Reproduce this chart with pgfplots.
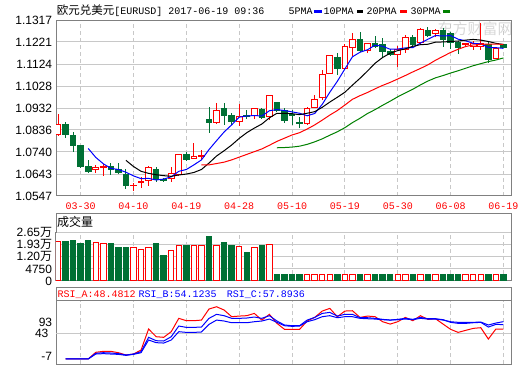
\documentclass[border=0pt]{standalone}
\usepackage{fontspec}
\setmainfont{Liberation Sans}
\newfontfamily\mono{Liberation Mono}
\newfontfamily\cjk{Noto Sans CJK SC}
\usepackage{pgfplots}
\pgfplotsset{compat=1.18}
\usepgfplotslibrary{statistics}
\definecolor{upc}{RGB}{255,0,0}
\definecolor{dnc}{RGB}{0,112,52}
\definecolor{framec}{RGB}{128,128,128}
\definecolor{gridc}{RGB}{200,200,200}
\definecolor{mablue}{RGB}{0,0,255}
\definecolor{magreen}{RGB}{0,128,0}
\definecolor{wmc}{RGB}{215,215,215}
% up candle: i, low, open, close, high
\newcommand{\cu}[5]{\addplot[draw=upc, line width=1bp, boxplot prepared={draw position=#1, lower whisker=#2, lower quartile=#3, median=#4, upper quartile=#4, upper whisker=#5, box extend=0.75, whisker extend=0, every box/.style={draw=upc, fill=white}}] coordinates {};}
% down candle: i, low, close, open, high
\newcommand{\cd}[5]{\addplot[draw=dnc, line width=1bp, boxplot prepared={draw position=#1, lower whisker=#2, lower quartile=#3, median=#4, upper quartile=#4, upper whisker=#5, box extend=0.75, whisker extend=0, every box/.style={draw=dnc, fill=dnc}}] coordinates {};}
% volume bars: i, volume
\newcommand{\vu}[2]{\addplot[draw=upc, line width=1bp, boxplot prepared={draw position=#1, lower whisker=-2500, lower quartile=-2500, median=#2, upper quartile=#2, upper whisker=#2, box extend=0.72, whisker extend=0, every box/.style={draw=upc, fill=white}}] coordinates {};}
\newcommand{\vd}[2]{\addplot[draw=dnc, line width=1bp, boxplot prepared={draw position=#1, lower whisker=-2500, lower quartile=-2500, median=#2, upper quartile=#2, upper whisker=#2, box extend=0.72, whisker extend=0, every box/.style={draw=dnc, fill=dnc}}] coordinates {};}
\pgfplotsset{
 panel/.style={
  scale only axis, width=455bp, xmin=-0.265, xmax=60,
  anchor=south west,
  axis line style={draw=framec, line width=1bp},
  xtick={3,10,17,24,31,38,45,52,59},
  major tick length=0pt,
  scaled y ticks=false,
  xmajorgrids, ymajorgrids,
  x grid style={draw=gridc, dash pattern=on 4bp off 3bp, line width=1bp},
  y grid style={draw=gridc, line width=1bp},
  yticklabel style={font=\fontsize{12bp}{13bp}\selectfont, anchor=east, inner sep=0pt, xshift=-3.7bp, text=black},
  boxplot/draw direction=y,
 },
}
\begin{document}
\begin{tikzpicture}
\path[use as bounding box] (0,0) rectangle (520bp,365bp);
% watermark
\node[anchor=center, inner sep=0pt, text=wmc] at (475bp,336bp) {\cjk\fontsize{15bp}{15bp}\selectfont 东方财富网};
% ---------------- main price panel ----------------
\begin{axis}[panel, at={(56bp,169bp)}, height=176bp,
  ymin=1.0547, ymax=1.1317,
  ytick={1.0547,1.0643,1.0740,1.0836,1.0932,1.1028,1.1124,1.1221,1.1317},
  yticklabels={1.0547,1.0643,1.0740,1.0836,1.0932,1.1028,1.1124,1.1221,1.1317},
  xticklabels={03-30,04-10,04-19,04-28,05-10,05-19,05-30,06-08,06-19},
  xticklabel style={font=\mono\fontsize{10bp}{10bp}\selectfont, text=upc, anchor=north, inner sep=0pt, yshift=-6.5bp},
]
\cu{0}{1.0811}{1.0817}{1.0862}{1.0906}
\cd{1}{1.0799}{1.0817}{1.0861}{1.0871}
\cd{2}{1.0741}{1.0767}{1.0810}{1.0826}
\cd{3}{1.0672}{1.0675}{1.0767}{1.0770}
\cd{4}{1.0649}{1.0653}{1.0678}{1.0705}
\cu{5}{1.0646}{1.0662}{1.0670}{1.0681}
\cu{6}{1.0636}{1.0673}{1.0675}{1.0686}
\cd{7}{1.0638}{1.0665}{1.0674}{1.0693}
\cd{8}{1.0643}{1.0651}{1.0664}{1.0690}
\cd{9}{1.0579}{1.0592}{1.0643}{1.0665}
\cu{10}{1.0570}{1.0591}{1.0594}{1.0604}
\cu{11}{1.0581}{1.0604}{1.0611}{1.0629}
\cu{12}{1.0591}{1.0613}{1.0670}{1.0680}
\cd{13}{1.0610}{1.0617}{1.0664}{1.0675}
\cd{14}{1.0610}{1.0613}{1.0621}{1.0625}
\cu{15}{1.0608}{1.0624}{1.0646}{1.0673}
\cu{16}{1.0637}{1.0641}{1.0729}{1.0731}
\cd{17}{1.0701}{1.0708}{1.0729}{1.0741}
\cu{18}{1.0709}{1.0713}{1.0718}{1.0778}
\cu{19}{1.0705}{1.0718}{1.0726}{1.0748}
\cd{20}{1.0821}{1.0868}{1.0880}{1.0936}
\cu{21}{1.0862}{1.0868}{1.0923}{1.0953}
\cd{22}{1.0858}{1.0901}{1.0928}{1.0955}
\cd{23}{1.0858}{1.0872}{1.0901}{1.0911}
\cu{24}{1.0853}{1.0872}{1.0897}{1.0949}
\cd{25}{1.0884}{1.0894}{1.0900}{1.0923}
\cu{26}{1.0883}{1.0898}{1.0931}{1.0932}
\cd{27}{1.0883}{1.0891}{1.0926}{1.0933}
\cu{28}{1.0880}{1.0894}{1.0985}{1.0989}
\cd{29}{1.0916}{1.0923}{1.0955}{1.0960}
\cd{30}{1.0865}{1.0876}{1.0923}{1.0931}
\cd{31}{1.0858}{1.0898}{1.0904}{1.0923}
\cd{32}{1.0843}{1.0863}{1.0869}{1.0891}
\cu{33}{1.0856}{1.0865}{1.0931}{1.0938}
\cu{34}{1.0931}{1.0935}{1.0971}{1.0989}
\cu{35}{1.0967}{1.0977}{1.1079}{1.1098}
\cu{36}{1.1081}{1.1084}{1.1160}{1.1161}
\cd{37}{1.1076}{1.1103}{1.1154}{1.1174}
\cu{38}{1.1101}{1.1106}{1.1203}{1.1212}
\cu{39}{1.1160}{1.1198}{1.1233}{1.1259}
\cd{40}{1.1178}{1.1183}{1.1233}{1.1266}
\cu{41}{1.1171}{1.1183}{1.1215}{1.1217}
\cd{42}{1.1193}{1.1203}{1.1215}{1.1247}
\cd{43}{1.1156}{1.1178}{1.1208}{1.1237}
\cd{44}{1.1160}{1.1164}{1.1178}{1.1189}
\cu{45}{1.1110}{1.1164}{1.1189}{1.1203}
\cu{46}{1.1171}{1.1189}{1.1241}{1.1251}
\cd{47}{1.1200}{1.1208}{1.1241}{1.1253}
\cu{48}{1.1215}{1.1218}{1.1276}{1.1281}
\cd{49}{1.1241}{1.1251}{1.1273}{1.1285}
\cu{50}{1.1241}{1.1256}{1.1270}{1.1276}
\cd{51}{1.1200}{1.1230}{1.1273}{1.1281}
\cd{52}{1.1189}{1.1218}{1.1256}{1.1266}
\cd{53}{1.1168}{1.1198}{1.1218}{1.1226}
\cu{54}{1.1200}{1.1208}{1.1213}{1.1218}
\cu{55}{1.1186}{1.1200}{1.1215}{1.1226}
\cu{56}{1.1186}{1.1203}{1.1215}{1.1303}
\cd{57}{1.1130}{1.1145}{1.1212}{1.1222}
\cu{58}{1.1145}{1.1149}{1.1193}{1.1195}
\cd{59}{1.1193}{1.1198}{1.1208}{1.1212}
% 5PMA
\addplot[mablue, line width=1bp] coordinates {(4,1.0755)(5,1.0716)(6,1.0688)(7,1.0668)(8,1.0663)(9,1.0651)(10,1.0635)(11,1.0623)(12,1.0624)(13,1.0617)(14,1.0621)(15,1.0631)(16,1.0655)(17,1.0663)(18,1.0683)(19,1.0705)(20,1.0750)(21,1.0789)(22,1.0827)(23,1.0858)(24,1.0892)(25,1.0897)(26,1.0899)(27,1.0897)(28,1.0920)(29,1.0925)(30,1.0921)(31,1.0915)(32,1.0909)(33,1.0898)(34,1.0908)(35,1.0948)(36,1.1001)(37,1.1049)(38,1.1103)(39,1.1156)(40,1.1176)(41,1.1187)(42,1.1207)(43,1.1202)(44,1.1189)(45,1.1190)(46,1.1195)(47,1.1196)(48,1.1216)(49,1.1233)(50,1.1249)(51,1.1247)(52,1.1249)(53,1.1233)(54,1.1226)(55,1.1215)(56,1.1212)(57,1.1197)(58,1.1196)(59,1.1193)};
% 10PMA
\addplot[black, line width=1bp] coordinates {(9,1.0703)(10,1.0676)(11,1.0655)(12,1.0646)(13,1.0640)(14,1.0636)(15,1.0633)(16,1.0639)(17,1.0643)(18,1.0650)(19,1.0663)(20,1.0691)(21,1.0722)(22,1.0745)(23,1.0770)(24,1.0799)(25,1.0824)(26,1.0844)(27,1.0862)(28,1.0889)(29,1.0909)(30,1.0909)(31,1.0907)(32,1.0903)(33,1.0909)(34,1.0916)(35,1.0935)(36,1.0958)(37,1.0979)(38,1.1001)(39,1.1032)(40,1.1062)(41,1.1094)(42,1.1128)(43,1.1153)(44,1.1172)(45,1.1183)(46,1.1191)(47,1.1202)(48,1.1209)(49,1.1211)(50,1.1220)(51,1.1221)(52,1.1223)(53,1.1225)(54,1.1229)(55,1.1232)(56,1.1229)(57,1.1223)(58,1.1215)(59,1.1210)};
% 20PMA
\addplot[upc, line width=1bp] coordinates {(19,1.0683)(20,1.0683)(21,1.0689)(22,1.0695)(23,1.0705)(24,1.0717)(25,1.0729)(26,1.0741)(27,1.0753)(28,1.0769)(29,1.0786)(30,1.0800)(31,1.0814)(32,1.0824)(33,1.0840)(34,1.0858)(35,1.0879)(36,1.0901)(37,1.0921)(38,1.0945)(39,1.0970)(40,1.0986)(41,1.1000)(42,1.1016)(43,1.1031)(44,1.1044)(45,1.1059)(46,1.1074)(47,1.1090)(48,1.1105)(49,1.1121)(50,1.1141)(51,1.1158)(52,1.1175)(53,1.1189)(54,1.1201)(55,1.1208)(56,1.1210)(57,1.1212)(58,1.1212)(59,1.1210)};
% 30PMA
\addplot[magreen, line width=1bp] coordinates {(29,1.0758)(30,1.0759)(31,1.0761)(32,1.0765)(33,1.0773)(34,1.0784)(35,1.0797)(36,1.0813)(37,1.0828)(38,1.0846)(39,1.0868)(40,1.0887)(41,1.0908)(42,1.0925)(43,1.0944)(44,1.0962)(45,1.0981)(46,1.0998)(47,1.1014)(48,1.1033)(49,1.1050)(50,1.1064)(51,1.1074)(52,1.1085)(53,1.1095)(54,1.1106)(55,1.1117)(56,1.1126)(57,1.1135)(58,1.1142)(59,1.1151)};
\end{axis}
% ---------------- volume panel ----------------
\draw[framec, line width=1bp] (56bp,132.3bp) rectangle (511bp,151bp);
\node[anchor=base west, inner sep=0pt] at (57bp,138.5bp) {\cjk\fontsize{12bp}{12bp}\selectfont 成交量};
\begin{axis}[panel, at={(56bp,84bp)}, height=48.3bp,
  ymin=-2500, ymax=26500,
  ytick={-2500,4750,12000,19250,26500},
  yticklabels={0,4750,{1.20{\cjk 万}},{1.93{\cjk 万}},{2.65{\cjk 万}}},
  xticklabels={},
]
\vu{0}{21336}
\vd{1}{20916}
\vd{2}{21516}
\vd{3}{19895}
\vd{4}{21516}
\vu{5}{20735}
\vu{6}{20135}
\vd{7}{19715}
\vd{8}{17313}
\vd{9}{17313}
\vu{10}{17733}
\vu{11}{16533}
\vu{12}{17733}
\vd{13}{19715}
\vd{14}{12510}
\vu{15}{15932}
\vu{16}{18934}
\vd{17}{18514}
\vu{18}{18514}
\vu{19}{19114}
\vd{20}{23918}
\vu{21}{18514}
\vd{22}{20315}
\vd{23}{18514}
\vu{24}{18334}
\vd{25}{14311}
\vu{26}{17733}
\vd{27}{18694}
\vu{28}{19535}
\vd{29}{1300}
\vd{30}{1300}
\vd{31}{1300}
\vd{32}{1300}
\vu{33}{1300}
\vu{34}{1300}
\vu{35}{1300}
\vu{36}{1300}
\vd{37}{1300}
\vu{38}{1300}
\vu{39}{1300}
\vd{40}{1300}
\vu{41}{1300}
\vd{42}{1300}
\vd{43}{1300}
\vd{44}{1300}
\vu{45}{1300}
\vu{46}{1300}
\vd{47}{1300}
\vu{48}{1300}
\vd{49}{1300}
\vu{50}{1300}
\vd{51}{1300}
\vd{52}{1300}
\vd{53}{1300}
\vu{54}{1300}
\vu{55}{1300}
\vu{56}{1300}
\vd{57}{1300}
\vu{58}{1300}
\vd{59}{1300}
\end{axis}
\draw[gridc, line width=1bp] (56.5bp,132.3bp) -- (510.5bp,132.3bp);
% ---------------- RSI panel ----------------
\draw[framec, line width=1bp] (56bp,64.3bp) rectangle (511bp,77.3bp);
\begin{axis}[panel, at={(56bp,1bp)}, height=63.3bp,
  ymin=3.9, ymax=84.6,
  ymajorgrids=false,
  ytick={14.1,57.4}, yticklabels={-7,93},
  extra y ticks={43}, extra y tick labels={43},
  extra y tick style={ymajorgrids=true, yticklabel style={font=\fontsize{12bp}{13bp}\selectfont, anchor=east, inner sep=0pt, xshift=-3.7bp}},
  xticklabels={},
]
\addplot[upc, line width=1bp] coordinates {(1,10.3)(2,10.3)(3,10.3)(4,10.3)(5,18.8)(6,20.0)(7,20.0)(8,18.3)(9,15.4)(10,16.6)(11,21.7)(12,48.5)(13,38.7)(14,37.9)(15,45.1)(16,62.1)(17,59.1)(18,59.1)(19,59.9)(20,74.0)(21,76.9)(22,72.7)(23,64.2)(24,65.0)(25,65.5)(26,68.4)(27,59.9)(28,67.2)(29,55.7)(30,48.1)(31,48.1)(32,48.1)(33,58.7)(34,63.3)(35,71.4)(36,74.8)(37,64.2)(38,71.4)(39,71.8)(40,63.3)(41,65.0)(42,64.2)(43,57.8)(44,54.8)(45,57.8)(46,63.3)(47,59.1)(48,65.5)(49,60.8)(50,61.6)(51,54.8)(52,48.1)(53,44.2)(54,46.8)(55,49.3)(56,50.2)(57,35.7)(58,48.5)(59,48.5)};
\addplot[mablue, line width=1bp] coordinates {(1,10.3)(2,10.3)(3,10.3)(4,10.3)(5,17.5)(6,18.3)(7,17.9)(8,17.1)(9,15.4)(10,16.6)(11,19.6)(12,37.9)(13,33.6)(14,33.2)(15,38.7)(16,52.3)(17,50.6)(18,50.6)(19,51.0)(20,62.1)(21,67.2)(22,65.5)(23,62.1)(24,62.1)(25,62.5)(26,63.8)(27,62.1)(28,65.5)(29,58.7)(30,53.6)(31,52.7)(32,52.7)(33,59.9)(34,63.3)(35,68.4)(36,69.7)(37,65.0)(38,67.2)(39,67.2)(40,62.9)(41,62.9)(42,62.1)(43,60.8)(44,59.9)(45,60.8)(46,62.1)(47,60.8)(48,63.3)(49,61.6)(50,61.6)(51,60.4)(52,57.0)(53,55.7)(54,55.7)(55,56.5)(56,57.0)(57,51.0)(58,54.4)(59,54.1)};
\addplot[mablue, line width=1bp] coordinates {(1,10.3)(2,10.3)(3,10.3)(4,10.3)(5,16.6)(6,17.1)(7,16.6)(8,16.2)(9,14.9)(10,16.2)(11,18.3)(12,34.5)(13,31.1)(14,30.6)(15,34.5)(16,45.1)(17,44.2)(18,44.2)(19,44.7)(20,54.4)(21,59.9)(22,58.7)(23,56.5)(24,56.5)(25,56.5)(26,57.8)(27,58.7)(28,61.2)(29,57.0)(30,52.7)(31,51.9)(32,52.3)(33,57.8)(34,60.4)(35,64.2)(36,65.5)(37,62.9)(38,64.2)(39,64.2)(40,62.1)(41,61.6)(42,61.2)(43,60.4)(44,59.9)(45,60.4)(46,61.2)(47,60.4)(48,62.1)(49,61.2)(50,61.2)(51,59.9)(52,57.8)(53,57.0)(54,57.0)(55,57.0)(56,57.4)(57,53.6)(58,56.1)(59,57.9)};
\end{axis}
% ---------------- header texts ----------------
\node[anchor=base west, inner sep=0pt] at (56.7bp,350.5bp) {{\cjk\fontsize{11.5bp}{12bp}\selectfont 欧元兑美元}{\mono\fontsize{10bp}{12bp}\selectfont [EURUSD] 2017-06-19 09:36}};
\node[anchor=base west, inner sep=0pt] at (288.3bp,350.5bp) {\mono\fontsize{10bp}{12bp}\selectfont 5PMA};
\fill[mablue] (314.3bp,352.3bp) rectangle (321.7bp,355bp);
\node[anchor=base west, inner sep=0pt] at (323.3bp,350.5bp) {\mono\fontsize{10bp}{12bp}\selectfont 10PMA};
\fill[black] (356.7bp,352.3bp) rectangle (363.3bp,355bp);
\node[anchor=base west, inner sep=0pt] at (366.3bp,350.5bp) {\mono\fontsize{10bp}{12bp}\selectfont 20PMA};
\fill[upc] (400bp,352.3bp) rectangle (406.7bp,355bp);
\node[anchor=base west, inner sep=0pt] at (410.5bp,350.5bp) {\mono\fontsize{10bp}{12bp}\selectfont 30PMA};
\fill[magreen] (442.7bp,352.3bp) rectangle (450bp,355bp);
\node[anchor=base west, inner sep=0pt, text=upc] at (57.3bp,67.5bp) {\mono\fontsize{10bp}{12bp}\selectfont RSI\_A:48.4812};
\node[anchor=base west, inner sep=0pt, text=mablue] at (138.3bp,67.5bp) {\mono\fontsize{10bp}{12bp}\selectfont RSI\_B:54.1235};
\node[anchor=base west, inner sep=0pt, text=mablue] at (226.7bp,67.5bp) {\mono\fontsize{10bp}{12bp}\selectfont RSI\_C:57.8936};
\end{tikzpicture}
\end{document}
